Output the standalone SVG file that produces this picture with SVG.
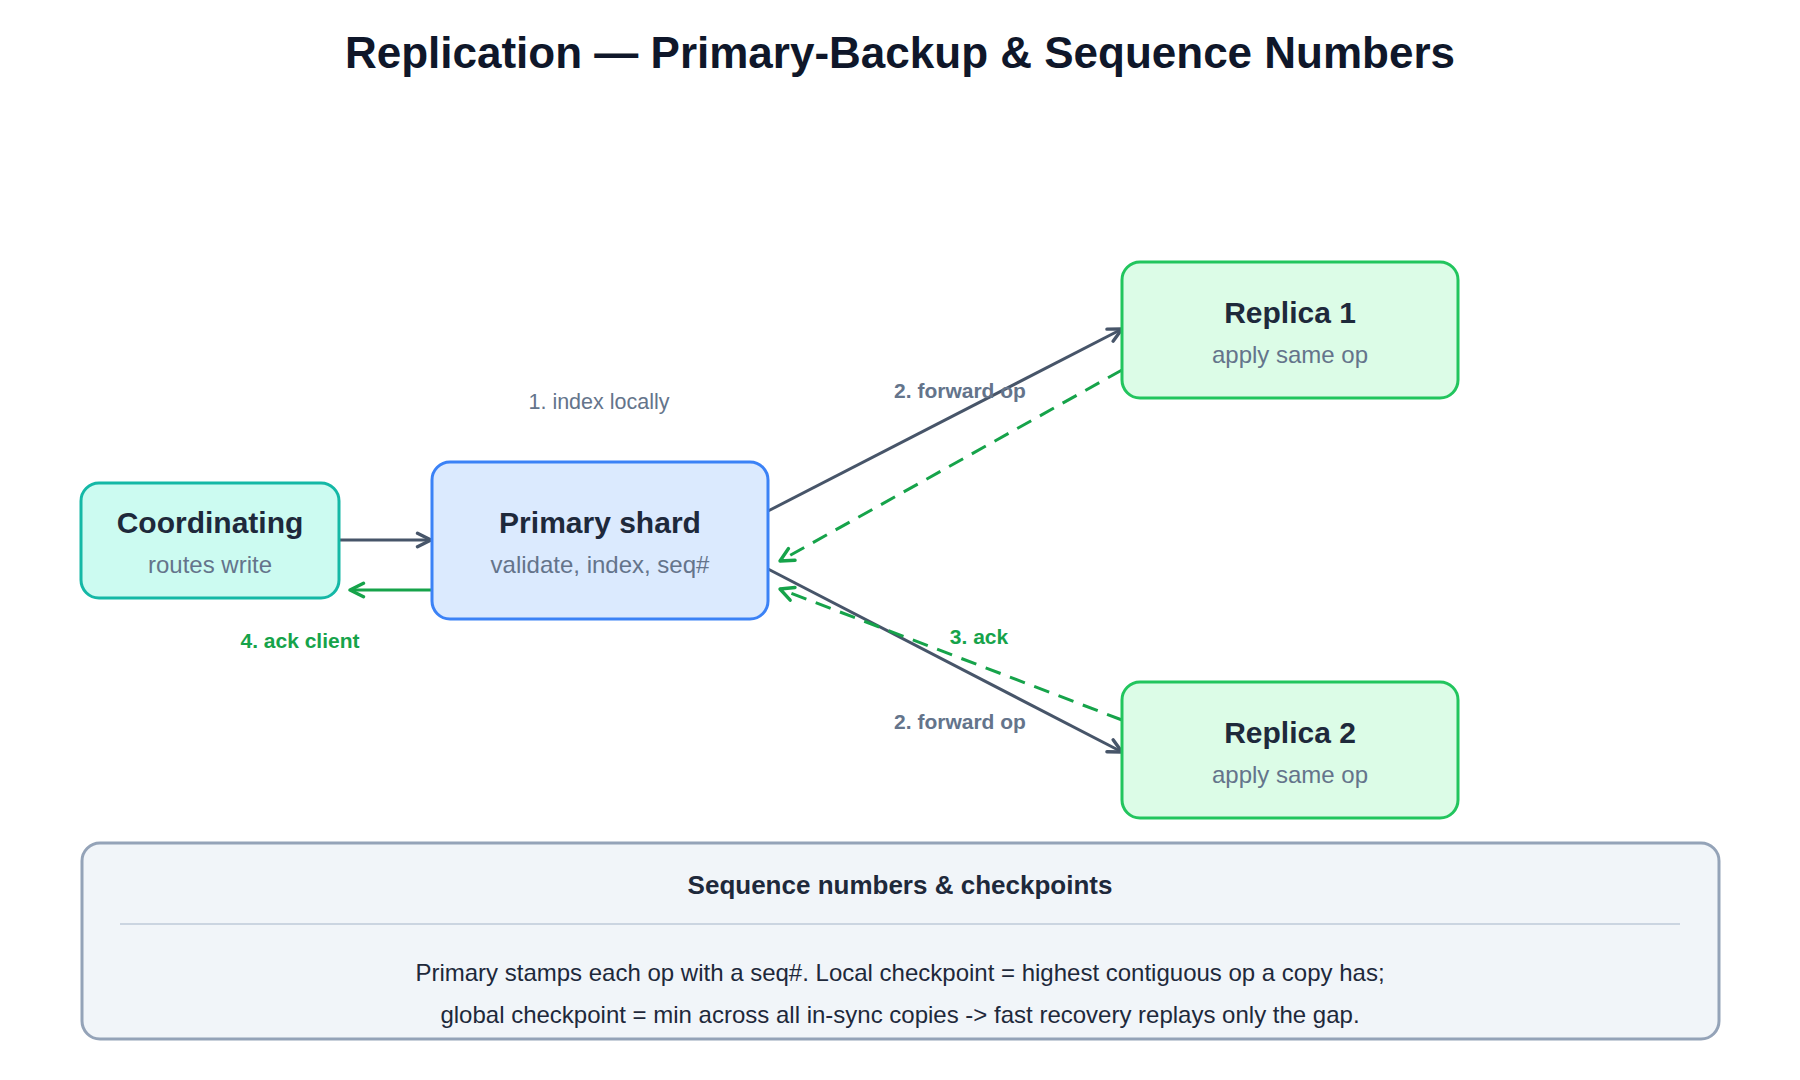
<svg xmlns="http://www.w3.org/2000/svg" width="1800" height="1080" viewBox="0 0 1800 1080">
<defs>
<marker id="ag" viewBox="0 0 16 16" refX="14" refY="8" markerWidth="18" markerHeight="18" markerUnits="userSpaceOnUse" orient="auto"><path d="M2,2 L14,8 L2,14" fill="none" stroke="#475569" stroke-width="3" stroke-linecap="round" stroke-linejoin="round"/></marker>
<marker id="agr" viewBox="0 0 16 16" refX="14" refY="8" markerWidth="18" markerHeight="18" markerUnits="userSpaceOnUse" orient="auto"><path d="M2,2 L14,8 L2,14" fill="none" stroke="#16a34a" stroke-width="3" stroke-linecap="round" stroke-linejoin="round"/></marker>
</defs>
<style>
text{font-family:"Liberation Sans",Arial,sans-serif}
.t{font-size:30px;font-weight:bold;fill:#1e293b;text-anchor:middle}
.s{font-size:24px;fill:#64748b;text-anchor:middle}
.lg{font-size:21px;font-weight:bold;fill:#64748b;text-anchor:middle}
.lgn{font-size:21px;font-weight:bold;fill:#16a34a;text-anchor:middle}
.g{stroke:#475569;stroke-width:3;fill:none}
.gr{stroke:#16a34a;stroke-width:3;fill:none}
</style>
<rect width="1800" height="1080" fill="#ffffff"/>
<text x="900" y="68" font-size="44" font-weight="bold" fill="#0f172a" text-anchor="middle">Replication — Primary-Backup &amp; Sequence Numbers</text>
<g id="connectors">
<line class="g" x1="340" y1="540" x2="431" y2="540" marker-end="url(#ag)"/>
<line class="gr" x1="432" y1="590" x2="350" y2="590" marker-end="url(#agr)"/>
<line class="g" x1="768" y1="511" x2="1122" y2="329" marker-end="url(#ag)"/>
<line class="gr" stroke-dasharray="16,10" x1="1122" y1="370" x2="780" y2="561" marker-end="url(#agr)"/>
<line class="g" x1="768" y1="569" x2="1122" y2="752" marker-end="url(#ag)"/>
<line class="gr" stroke-dasharray="16,10" x1="1122" y1="720" x2="780" y2="589" marker-end="url(#agr)"/>
<text x="599" y="409" font-size="21.5" fill="#64748b" text-anchor="middle">1. index locally</text>
<text class="lg" x="960" y="398">2. forward op</text>
<text class="lg" x="960" y="729">2. forward op</text>
<text class="lgn" x="979" y="644">3. ack</text>
<text class="lgn" x="300" y="648">4. ack client</text>
</g>
<g id="coordinating">
<rect x="81" y="483" width="258" height="115" rx="18" fill="#ccfbf1" stroke="#14b8a6" stroke-width="3"/>
<text class="t" x="210" y="533">Coordinating</text>
<text class="s" x="210" y="573">routes write</text>
</g>
<g id="primary">
<rect x="432" y="462" width="336" height="157" rx="18" fill="#dbeafe" stroke="#3b82f6" stroke-width="3"/>
<text class="t" x="600" y="533">Primary shard</text>
<text class="s" x="600" y="573">validate, index, seq#</text>
</g>
<g id="replica1">
<rect x="1122" y="262" width="336" height="136" rx="18" fill="#dcfce7" stroke="#22c55e" stroke-width="3"/>
<text class="t" x="1290" y="323">Replica 1</text>
<text class="s" x="1290" y="363">apply same op</text>
</g>
<g id="replica2">
<rect x="1122" y="682" width="336" height="136" rx="18" fill="#dcfce7" stroke="#22c55e" stroke-width="3"/>
<text class="t" x="1290" y="743">Replica 2</text>
<text class="s" x="1290" y="783">apply same op</text>
</g>
<g id="note">
<rect x="82" y="843" width="1637" height="196" rx="18" fill="#f1f5f9" stroke="#94a3b8" stroke-width="3"/>
<text x="900" y="894" font-size="26" font-weight="bold" fill="#1e293b" text-anchor="middle">Sequence numbers &amp; checkpoints</text>
<line x1="120" y1="924" x2="1680" y2="924" stroke="#cbd5e1" stroke-width="2"/>
<text x="900" y="981" font-size="24" fill="#1e293b" text-anchor="middle">Primary stamps each op with a seq#. Local checkpoint = highest contiguous op a copy has;</text>
<text x="900" y="1023" font-size="24" fill="#1e293b" text-anchor="middle">global checkpoint = min across all in-sync copies -&gt; fast recovery replays only the gap.</text>
</g>
</svg>
